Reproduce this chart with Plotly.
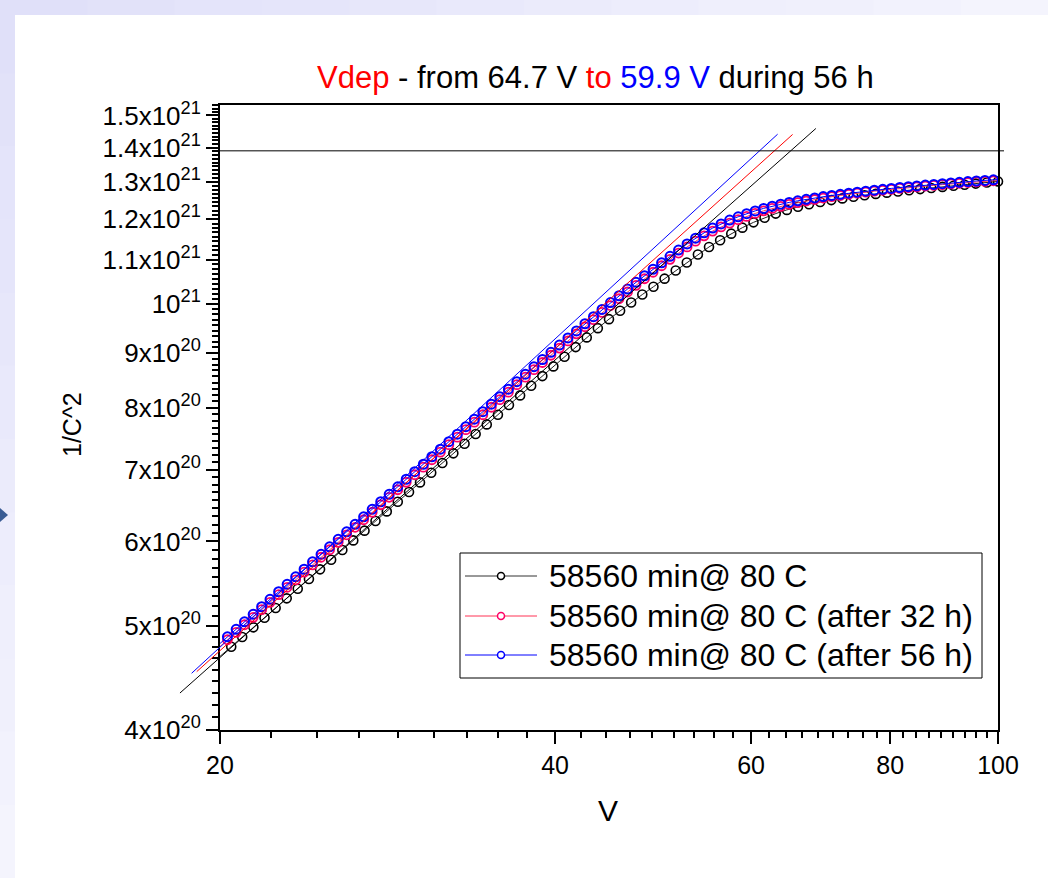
import numpy as np
import plotly.graph_objects as go

# ---------------- data ----------------
V_BLACK = [20.00, 20.47, 20.94, 21.43, 21.93, 22.44, 22.96, 23.49, 24.04, 24.60,
           25.17, 25.76, 26.35, 26.97, 27.59, 28.24, 28.89, 29.57, 30.25, 30.96,
           31.68, 32.41, 33.17, 33.94, 34.73, 35.54, 36.36, 37.21, 38.07, 38.96,
           39.86, 40.79, 41.74, 42.71, 43.70, 44.72, 45.76, 46.82, 47.91, 49.03,
           50.17, 51.34, 52.53, 53.75, 55.00, 56.28, 57.59, 58.93, 60.30, 61.70,
           63.14, 64.61, 66.11, 67.64, 69.22, 70.83, 72.47, 74.16, 75.88, 77.65,
           79.46, 81.31, 83.20, 85.13, 87.11, 89.14, 91.21, 93.33, 95.50, 97.72,
           100.00]
C2_BLACK = [4.686, 4.784, 4.885, 4.988, 5.093, 5.200, 5.309, 5.420, 5.534, 5.651,
            5.769, 5.891, 6.014, 6.141, 6.270, 6.401, 6.536, 6.673, 6.813, 6.956,
            7.103, 7.252, 7.404, 7.560, 7.718, 7.880, 8.046, 8.215, 8.387, 8.563,
            8.743, 8.927, 9.114, 9.306, 9.493, 9.678, 9.855, 10.030, 10.204, 10.377,
            10.559, 10.747, 10.933, 11.123, 11.304, 11.470, 11.632, 11.783, 11.918, 12.038,
            12.145, 12.242, 12.324, 12.393, 12.451, 12.502, 12.548, 12.591, 12.632, 12.670,
            12.705, 12.738, 12.771, 12.802, 12.832, 12.862, 12.893, 12.923, 12.954, 12.985,
            13.016]

V_AFTER = [19.96, 20.31, 20.68, 21.04, 21.42, 21.80, 22.18, 22.58, 22.98, 23.39,
           23.80, 24.22, 24.65, 25.09, 25.54, 25.99, 26.45, 26.92, 27.40, 27.89,
           28.38, 28.89, 29.40, 29.92, 30.46, 31.00, 31.55, 32.11, 32.68, 33.26,
           33.85, 34.45, 35.06, 35.68, 36.32, 36.96, 37.62, 38.29, 38.97, 39.66,
           40.36, 41.08, 41.81, 42.55, 43.31, 44.08, 44.86, 45.66, 46.47, 47.29,
           48.13, 48.99, 49.86, 50.74, 51.64, 52.56, 53.49, 54.44, 55.41, 56.39,
           57.40, 58.42, 59.45, 60.51, 61.58, 62.68, 63.79, 64.92, 66.08, 67.25,
           68.44, 69.66, 70.90, 72.16, 73.44, 74.74, 76.07, 77.42, 78.79, 80.19,
           81.62, 83.07, 84.54, 86.04, 87.57, 89.13, 90.71, 92.32, 93.96, 95.63,
           97.33, 99.06, 100.82]
C2_RED = [4.778, 4.857, 4.935, 5.016, 5.097, 5.181, 5.264, 5.351, 5.437, 5.525,
          5.616, 5.706, 5.800, 5.894, 5.989, 6.087, 6.186, 6.287, 6.389, 6.493,
          6.598, 6.706, 6.815, 6.926, 7.039, 7.153, 7.270, 7.388, 7.509, 7.631,
          7.755, 7.880, 8.008, 8.140, 8.272, 8.406, 8.543, 8.682, 8.817, 8.955,
          9.095, 9.236, 9.377, 9.522, 9.668, 9.820, 9.966, 10.113, 10.260, 10.409,
          10.557, 10.706, 10.856, 11.007, 11.157, 11.304, 11.446, 11.577, 11.697, 11.803,
          11.900, 11.988, 12.072, 12.149, 12.218, 12.280, 12.336, 12.387, 12.434, 12.478,
          12.519, 12.558, 12.594, 12.627, 12.661, 12.691, 12.719, 12.745, 12.770, 12.795,
          12.820, 12.842, 12.864, 12.886, 12.906, 12.925, 12.945, 12.964, 12.984, 13.001,
          13.018, 13.034, 13.051]
C2_BLUE = [4.809, 4.888, 4.967, 5.048, 5.130, 5.214, 5.298, 5.385, 5.472, 5.561,
           5.652, 5.743, 5.837, 5.932, 6.028, 6.126, 6.226, 6.327, 6.430, 6.535,
           6.641, 6.749, 6.859, 6.971, 7.084, 7.199, 7.317, 7.436, 7.557, 7.680,
           7.805, 7.931, 8.060, 8.192, 8.325, 8.460, 8.598, 8.738, 8.874, 9.013,
           9.154, 9.295, 9.437, 9.583, 9.730, 9.883, 10.030, 10.178, 10.326, 10.476,
           10.625, 10.775, 10.926, 11.078, 11.229, 11.377, 11.520, 11.652, 11.772, 11.879,
           11.977, 12.062, 12.142, 12.216, 12.282, 12.340, 12.393, 12.441, 12.484, 12.524,
           12.562, 12.597, 12.629, 12.659, 12.689, 12.716, 12.744, 12.771, 12.796, 12.821,
           12.846, 12.868, 12.890, 12.912, 12.932, 12.951, 12.971, 12.990, 13.010, 13.027,
           13.044, 13.060, 13.077]
C2_UNIT = 1e20

# linear fits (in log-log) : end points
FIT_BLACK_V = [18.41, 68.61]
FIT_BLACK_C2 = [4.331e20, 1.4585e21]
FIT_RED_V = [19.06, 65.38]
FIT_RED_C2 = [4.535e20, 1.4398e21]
FIT_BLUE_V = [18.86, 63.39]
FIT_BLUE_C2 = [4.519e20, 1.4407e21]
PLATEAU_C2 = 1.39e21

SERIES_NAMES = ["58560 min@ 80 C", "58560 min@ 80 C (after 32 h)", "58560 min@ 80 C (after 56 h)"]

X_TICKVALS = [20, 40, 60, 80, 100]
X_TICKTEXT = ["20", "40", "60", "80", "100"]
Y_TICKVALS = [4e20, 5e20, 6e20, 7e20, 8e20, 9e20, 1e21, 1.1e21, 1.2e21, 1.3e21, 1.4e21, 1.5e21]
Y_TICKTEXT = ["4x10<sup>20</sup>", "5x10<sup>20</sup>", "6x10<sup>20</sup>", "7x10<sup>20</sup>",
              "8x10<sup>20</sup>", "9x10<sup>20</sup>", "10<sup>21</sup>", "1.1x10<sup>21</sup>",
              "1.2x10<sup>21</sup>", "1.3x10<sup>21</sup>", "1.4x10<sup>21</sup>", "1.5x10<sup>21</sup>"]

# ---------------- layout geometry ----------------
W, H = 1048, 878
ML, MR, MT, MB = 150, 50, 105, 148
PW, PH = W - ML - MR, H - MT - MB
AX_LEFT = 220  # pixel of x axis start
X_RANGE = [np.log10(20), np.log10(100)]
Y_RANGE = [np.log10(4e20), np.log10(1.534e21)]
px_per_dec = (W - MR - AX_LEFT) / (X_RANGE[1] - X_RANGE[0])
X2_RANGE = [X_RANGE[0] - (AX_LEFT - ML) / px_per_dec, X_RANGE[1]]


def pxx(x):
    return (x - ML) / PW


def pxy(y):
    return (H - MB - y) / PH


FONT = "Arial, Liberation Sans, sans-serif"

# minor ticks: 8 between majors
x_minor = [a + (b - a) * j / 9 for a, b in zip(X_TICKVALS[:-1], X_TICKVALS[1:]) for j in range(1, 9)]
y_minor = [a + (b - a) * j / 9 for a, b in zip(Y_TICKVALS[:-1], Y_TICKVALS[1:]) for j in range(1, 9)]
y_minor += [1.5e21 + 1e20 * j / 9 for j in range(1, 4)]

fig = go.Figure()

COL_BLACK = "#000000"
COL_RED = "#ff0066"
COL_RED_LINE = "#ff3355"
COL_BLUE = "#0000ff"

series = [
    (V_BLACK, C2_BLACK, COL_BLACK, "#222222", 1.6),
    (V_AFTER, C2_RED, COL_RED, COL_RED_LINE, 1.8),
    (V_AFTER, C2_BLUE, COL_BLUE, COL_BLUE, 2.0),
]
for (xs, ys, mc, lc, mw), name in zip(series, SERIES_NAMES):
    fig.add_trace(go.Scatter(
        x=xs, y=[v * C2_UNIT for v in ys], name=name, mode="lines+markers",
        line=dict(color=lc, width=1),
        marker=dict(symbol="circle-open", size=9, color=mc, line=dict(width=mw, color=mc)),
        cliponaxis=False, showlegend=False, xaxis="x", yaxis="y"))

for xs, ys, col in [(FIT_BLACK_V, FIT_BLACK_C2, "#000000"),
                    (FIT_RED_V, FIT_RED_C2, "#ff0000"),
                    (FIT_BLUE_V, FIT_BLUE_C2, "#0000ff")]:
    fig.add_trace(go.Scatter(x=xs, y=ys, mode="lines", line=dict(color=col, width=1),
                             showlegend=False, xaxis="x2", yaxis="y"))

shapes = []
# page background strips (lavender gradient)
n = 12
for i in range(n):
    t = i / (n - 1)
    c_top = tuple(int(round(a + (b - a) * t)) for a, b in zip((224, 224, 249), (244, 244, 253)))
    shapes.append(dict(type="rect", xref="paper", yref="paper",
                       x0=pxx(W * i / n), x1=pxx(W * (i + 1) / n + 1), y0=pxy(15), y1=pxy(0),
                       fillcolor="rgb(%d,%d,%d)" % c_top, line=dict(width=0), layer="below"))
    shapes.append(dict(type="rect", xref="paper", yref="paper",
                       x0=pxx(0), x1=pxx(15), y0=pxy(H * (i + 1) / n + 1), y1=pxy(H * i / n),
                       fillcolor="rgb(%d,%d,%d)" % c_top, line=dict(width=0), layer="below"))
# small arrow on the left edge
shapes.append(dict(type="path", xref="paper", yref="paper",
                   path="M %f,%f L %f,%f L %f,%f Z" % (pxx(0), pxy(508), pxx(8), pxy(515), pxx(0), pxy(522)),
                   fillcolor="#3a5c94", line=dict(width=0)))
# plateau line
shapes.append(dict(type="line", xref="paper", yref="y", x0=pxx(AX_LEFT), x1=pxx(1004),
                   y0=PLATEAU_C2, y1=PLATEAU_C2, line=dict(color="#000000", width=1)))

# manual legend
LB = dict(x0=460, x1=982, y0=553, y1=678)
shapes.append(dict(type="rect", xref="paper", yref="paper", x0=pxx(LB["x0"]), x1=pxx(LB["x1"]),
                   y0=pxy(LB["y1"]), y1=pxy(LB["y0"]), line=dict(color="#000000", width=1),
                   fillcolor="rgba(255,255,255,0)"))
annotations = []
leg_rows = [576, 616, 655]
leg_cols = [("#333333", COL_BLACK), (COL_RED_LINE, COL_RED), (COL_BLUE, COL_BLUE)]
for yrow, (lc, mc), name in zip(leg_rows, leg_cols, SERIES_NAMES):
    shapes.append(dict(type="line", xref="paper", yref="paper", x0=pxx(465), x1=pxx(537),
                       y0=pxy(yrow), y1=pxy(yrow), line=dict(color=lc, width=1)))
    shapes.append(dict(type="circle", xref="paper", yref="paper", x0=pxx(497.5), x1=pxx(504.5),
                       y0=pxy(yrow + 3.5), y1=pxy(yrow - 3.5), line=dict(color=mc, width=1.5),
                       fillcolor="white"))
    annotations.append(dict(xref="paper", yref="paper", x=pxx(547), y=pxy(yrow), xanchor="left",
                            yanchor="middle", showarrow=False, text=name,
                            font=dict(family=FONT, size=32, color="#000000")))

# title and axis titles
title_text = ('<span style="color:#ff0000">Vdep</span> - from 64.7 V '
              '<span style="color:#ff0000">to</span> <span style="color:#0000ff">59.9 V</span> during 56 h')
annotations.append(dict(xref="paper", yref="paper", x=pxx(595), y=pxy(77), xanchor="center",
                        yanchor="middle", showarrow=False, text=title_text,
                        font=dict(family=FONT, size=31, color="#000000")))
annotations.append(dict(xref="paper", yref="paper", x=pxx(608), y=pxy(810), xanchor="center",
                        yanchor="middle", showarrow=False, text="V",
                        font=dict(family=FONT, size=30, color="#000000")))
annotations.append(dict(xref="paper", yref="paper", x=pxx(72), y=pxy(425), xanchor="center",
                        yanchor="middle", showarrow=False, text="1/C^2", textangle=-90,
                        font=dict(family=FONT, size=25, color="#000000")))

fig.update_layout(
    width=W, height=H, autosize=False,
    margin=dict(l=ML, r=MR, t=MT, b=MB, pad=0),
    paper_bgcolor="white", plot_bgcolor="rgba(0,0,0,0)",
    showlegend=False,
    font=dict(family=FONT, color="#000000"),
    xaxis=dict(type="log", range=X_RANGE, domain=[(AX_LEFT - ML) / PW, 1], anchor="y",
               tickmode="array", tickvals=X_TICKVALS, ticktext=X_TICKTEXT,
               ticks="outside", ticklen=12, tickwidth=2, tickcolor="#000000",
               showline=True, linewidth=2, linecolor="#000000", mirror=True,
               showgrid=False, zeroline=False,
               tickfont=dict(family=FONT, size=25, color="#000000"),
               minor=dict(tickmode="array", tickvals=x_minor, ticks="outside", ticklen=6,
                          tickwidth=2, tickcolor="#000000", showgrid=False)),
    xaxis2=dict(type="log", range=X2_RANGE, domain=[0, 1], anchor="y", visible=False,
                showgrid=False, zeroline=False),
    yaxis=dict(type="log", range=Y_RANGE, domain=[0, 1], anchor="x",
               tickmode="array", tickvals=Y_TICKVALS, ticktext=Y_TICKTEXT,
               ticks="outside", ticklen=12, tickwidth=2, tickcolor="#000000",
               showline=True, linewidth=2, linecolor="#000000", mirror=True,
               showgrid=False, zeroline=False,
               tickfont=dict(family=FONT, size=26, color="#000000"),
               minor=dict(tickmode="array", tickvals=y_minor, ticks="outside", ticklen=6,
                          tickwidth=2, tickcolor="#000000", showgrid=False)),
    shapes=shapes,
    annotations=annotations,
)

fig.write_html("out.html")
